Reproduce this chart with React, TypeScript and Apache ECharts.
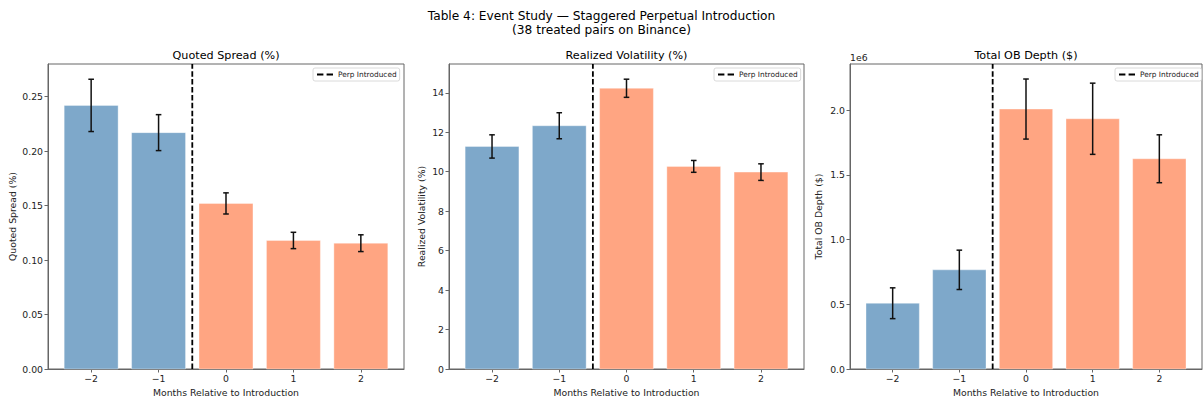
import React, { useEffect, useRef } from "react";
import * as echarts from "echarts";

const months = [-2, -1, 0, 1, 2];
const spread = [0.242, 0.217, 0.152, 0.118, 0.1155];
const spreadErr = [0.024, 0.0165, 0.0097, 0.0075, 0.0077];
const vol = [11.28, 12.33, 14.23, 10.27, 9.98];
const volErr = [0.59, 0.66, 0.46, 0.3, 0.42];
const depth = [508000, 766000, 2008000, 1933000, 1624000];
const depthErr = [119000, 152000, 232000, 275000, 185000];
const spreadTicks = [0, 0.05, 0.1, 0.15, 0.2, 0.25];
const volTicks = [0, 2, 4, 6, 8, 10, 12, 14];
const depthTicks = [0, 500000, 1000000, 1500000, 2000000];
const introMonth = -0.5;

const FONT = "DejaVu Sans";
const BLUE = "#7ea8ca";
const SALMON = "#ffa582";
const BAR_W = 0.8;
const TXT = "#222";
const SPINE = "#666";

const panels = [
  { title: "Quoted Spread (%)", yName: "Quoted Spread (%)", vals: spread, errs: spreadErr, ticks: spreadTicks, ymax: 0.28, fmt: (v: number) => v.toFixed(2), left: 48, right: 404, nameGap: 31.5, legendLeft: 313 },
  { title: "Realized Volatility (%)", yName: "Realized Volatility (%)", vals: vol, errs: volErr, ticks: volTicks, ymax: 15.46, fmt: (v: number) => String(Math.round(v)), left: 449, right: 804, nameGap: 23, legendLeft: 714 },
  { title: "Total OB Depth ($)", yName: "Total OB Depth ($)", vals: depth, errs: depthErr, ticks: depthTicks, ymax: 2356000, fmt: (v: number) => (v / 1e6).toFixed(1), left: 850, right: 1202, nameGap: 27, legendLeft: 1115 },
];

const TOP = 64;
const BOTTOM = 369;
const W = 1203;
const H = 402;

export default function App() {
  const ref = useRef<HTMLDivElement>(null);
  useEffect(() => {
    if (!ref.current) return;
    const chart = echarts.init(ref.current, null, { renderer: "svg" });
    const grid: any[] = [];
    const xAxis: any[] = [];
    const yAxis: any[] = [];
    const series: any[] = [];
    const legend: any[] = [];
    const graphic: any[] = [
      { type: "text", x: W / 2, y: 16, style: { text: "Table 4: Event Study — Staggered Perpetual Introduction", font: `12.2px "${FONT}"`, fill: "#000", textAlign: "center", textVerticalAlign: "middle" } },
      { type: "text", x: W / 2, y: 29.5, style: { text: "(38 treated pairs on Binance)", font: `12.2px "${FONT}"`, fill: "#000", textAlign: "center", textVerticalAlign: "middle" } },
    ];
    panels.forEach((p, i) => {
      grid.push({ left: p.left, width: p.right - p.left, top: TOP, height: BOTTOM - TOP, show: true, borderColor: SPINE, borderWidth: 1, backgroundColor: "transparent" });
      xAxis.push({
        type: "value", gridIndex: i, min: -2.64, max: 2.64,
        name: "Months Relative to Introduction", nameLocation: "middle", nameGap: 17,
        nameTextStyle: { fontFamily: FONT, fontSize: 9.3, color: TXT },
        axisLine: { show: true, onZero: false, lineStyle: { color: SPINE, width: 1 } },
        axisTick: { show: true, length: 3.5, lineStyle: { color: SPINE, width: 1 }, customValues: months },
        axisLabel: { fontFamily: FONT, fontSize: 9.3, color: TXT, margin: 5, customValues: months, formatter: (v: number) => (v < 0 ? "\u2212" + Math.abs(v) : String(v)) },
        splitLine: { show: false },
      });
      yAxis.push({
        type: "value", gridIndex: i, min: 0, max: p.ymax,
        name: p.yName, nameLocation: "middle", nameGap: p.nameGap, nameRotate: 90,
        nameTextStyle: { fontFamily: FONT, fontSize: 9.3, color: TXT },
        axisLine: { show: true, onZero: false, lineStyle: { color: SPINE, width: 1 } },
        axisTick: { show: true, length: 3.5, lineStyle: { color: SPINE, width: 1 }, customValues: p.ticks },
        axisLabel: { fontFamily: FONT, fontSize: 9.3, color: TXT, margin: 5, customValues: p.ticks, formatter: p.fmt },
        splitLine: { show: false },
      });
      const data = months.map((m, k) => [m, p.vals[k], p.errs[k]]);
      series.push({
        type: "custom", xAxisIndex: i, yAxisIndex: i, data, encode: { x: 0, y: 1 }, z: 2,
        renderItem: (_params: any, api: any) => {
          const x = api.value(0);
          const v = api.value(1);
          const p1 = api.coord([x - BAR_W / 2, v]);
          const p2 = api.coord([x + BAR_W / 2, 0]);
          return { type: "rect", shape: { x: p1[0], y: p1[1], width: p2[0] - p1[0], height: p2[1] - p1[1] }, style: { fill: x < 0 ? BLUE : SALMON, stroke: "rgba(255,255,255,0.6)", lineWidth: 0.6 } };
        },
      });
      series.push({
        type: "custom", xAxisIndex: i, yAxisIndex: i, data, encode: { x: 0, y: 1 }, z: 3,
        renderItem: (_params: any, api: any) => {
          const x = api.value(0);
          const v = api.value(1);
          const e = api.value(2);
          const hi = api.coord([x, v + e]);
          const lo = api.coord([x, v - e]);
          const cap = 2.8;
          const st = { stroke: "#111", lineWidth: 1.5 };
          return {
            type: "group",
            children: [
              { type: "line", shape: { x1: hi[0], y1: hi[1], x2: lo[0], y2: lo[1] }, style: st },
              { type: "line", shape: { x1: hi[0] - cap, y1: hi[1], x2: hi[0] + cap, y2: hi[1] }, style: st },
              { type: "line", shape: { x1: lo[0] - cap, y1: lo[1], x2: lo[0] + cap, y2: lo[1] }, style: st },
            ],
          };
        },
      });
      series.push({
        type: "line", name: "Perp Introduced", xAxisIndex: i, yAxisIndex: i, z: 4,
        data: [[introMonth, 0], [introMonth, p.ymax]], symbol: "none",
        lineStyle: { color: "#000", width: 1.8, type: [5.5, 2.4] },
      });
      legend.push({
        data: ["Perp Introduced"], left: p.legendLeft, top: 68, orient: "horizontal",
        padding: [3, 3, 3, 4], itemWidth: 16, itemHeight: 2.2, itemGap: 4,
        icon: "path://M0,0H6V2H0Z M9,0H15V2H9Z",
        borderColor: "#d0d0d0", borderWidth: 0.8, borderRadius: 2, backgroundColor: "#fff",
        textStyle: { fontFamily: FONT, fontSize: 7.4, color: TXT, padding: [0, 0, 0, 0] },
        itemStyle: { color: "#000" },
        selectedMode: false,
      });
      graphic.push({ type: "text", x: (p.left + p.right) / 2, y: 55, style: { text: p.title, font: `11.2px "${FONT}"`, fill: "#000", textAlign: "center", textVerticalAlign: "middle" } });
    });
    graphic.push({ type: "text", x: 850, y: 57, style: { text: "1e6", font: `9.3px "${FONT}"`, fill: TXT, textAlign: "left", textVerticalAlign: "middle" } });
    chart.setOption({ animation: false, grid, xAxis, yAxis, series, legend, graphic });
    return () => chart.dispose();
  }, []);
  return <div ref={ref} style={{ position: "fixed", left: 0, top: 0, width: W, height: H, background: "#fff" }} />;
}
